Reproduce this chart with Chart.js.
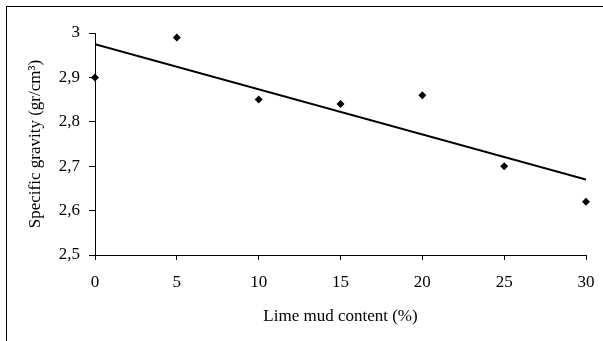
<!DOCTYPE html>
<html lang="en">
<head>
  <meta charset="UTF-8" />
  <title>Specific gravity vs lime mud content</title>
  <script src="https://cdn.jsdelivr.net/npm/chart.js"></script>
  <style>
    body {
      margin: 0;
      background: white;
    }
    canvas {
      display: block;
    }
  </style>
</head>
<body>
  <canvas id="chart" width="603" height="341"></canvas>

  <script>
    // data
    const limeMud = [0, 5, 10, 15, 20, 25, 30];
    const specGravity = [2.90, 2.99, 2.85, 2.84, 2.86, 2.70, 2.62];
    const trendX = [0, 30];
    const trendY = [2.975, 2.67];
    const xTicks = [0, 5, 10, 15, 20, 25, 30];
    const yTicks = [2.5, 2.6, 2.7, 2.8, 2.9, 3];

    const font = { family: "'Liberation Serif', 'Times New Roman', serif", size: 17 };

    // outer frame, cut off on the right and bottom like the original
    const framePlugin = {
      id: 'frame',
      beforeDraw(chart) {
        const c = chart.ctx;
        c.save();
        c.fillStyle = '#fff';
        c.fillRect(0, 0, chart.width, chart.height);
        c.strokeStyle = '#000';
        c.lineWidth = 1;
        c.strokeRect(6.5, 6.5, 700, 400);
        c.restore();
      }
    };

    const ctx = document.getElementById('chart').getContext('2d');
    new Chart(ctx, {
      type: 'scatter',
      data: {
        datasets: [
          {
            data: limeMud.map((x, i) => ({ x: x, y: specGravity[i] })),
            pointStyle: 'rectRot',
            pointRadius: 4,
            backgroundColor: '#000',
            borderColor: '#000',
            borderWidth: 0,
            clip: false
          },
          {
            type: 'line',
            data: trendX.map((x, i) => ({ x: x, y: trendY[i] })),
            borderColor: '#000',
            borderWidth: 2,
            pointRadius: 0,
            fill: false
          }
        ]
      },
      options: {
        responsive: false,
        animation: false,
        layout: { padding: { left: 0, top: 33, right: 17, bottom: 0 } },
        plugins: {
          legend: { display: false },
          tooltip: { enabled: false }
        },
        scales: {
          x: {
            type: 'linear',
            min: 0,
            max: 30,
            afterBuildTicks: s => { s.ticks = xTicks.map(v => ({ value: v })); },
            afterFit: s => { s.height = 86; s.paddingLeft = 0; s.paddingRight = 0; },
            border: { display: true, color: '#000', width: 1 },
            grid: { drawOnChartArea: false, drawTicks: true, tickLength: 5, color: '#000' },
            ticks: { color: '#000', font: font, padding: 12, maxRotation: 0 },
            title: {
              display: true,
              text: 'Lime mud content (%)',
              color: '#000',
              font: font,
              padding: { top: 0, bottom: 14 }
            }
          },
          y: {
            min: 2.5,
            max: 3,
            afterBuildTicks: s => { s.ticks = yTicks.map(v => ({ value: v })); },
            afterFit: s => { s.width = 95; },
            border: { display: true, color: '#000', width: 1 },
            grid: { drawOnChartArea: false, drawTicks: true, tickLength: 6, color: '#000' },
            ticks: {
              color: '#000',
              font: font,
              padding: 9,
              callback: v => String(Number(v.toFixed(1))).replace('.', ',')
            },
            title: {
              display: true,
              text: 'Specific gravity (gr/cm\u00B3)',
              color: '#000',
              font: font,
              padding: { top: 25, bottom: 0 }
            }
          }
        }
      },
      plugins: [framePlugin]
    });
  </script>
</body>
</html>
